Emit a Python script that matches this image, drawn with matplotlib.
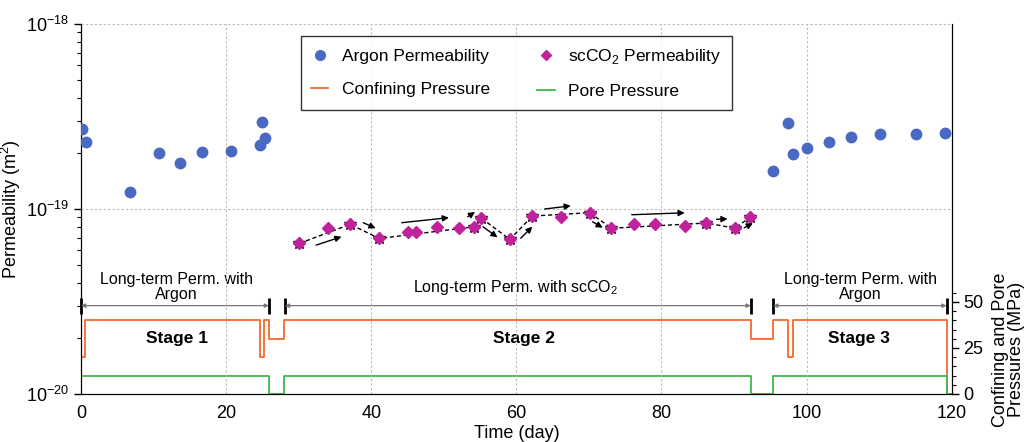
import numpy as np
import matplotlib
matplotlib.use('Agg')
import matplotlib.pyplot as plt
from matplotlib.lines import Line2D
from matplotlib.ticker import LogLocator, FixedLocator, NullFormatter

plt.rcParams['font.family'] = ['Liberation Sans', 'DejaVu Sans']
plt.rcParams['mathtext.fontset'] = 'custom'
plt.rcParams['mathtext.rm'] = 'Liberation Sans'

# Argon permeability (day, m^2)
argon_day = [0.1, 0.7, 6.8, 10.7, 13.7, 16.7, 20.7, 24.7, 24.9, 25.4,
             95.4, 97.5, 98.1, 100.1, 103.1, 106.1, 110.1, 115.1, 119.1]
argon_k = [2.70e-19, 2.30e-19, 1.24e-19, 2.02e-19, 1.77e-19, 2.04e-19, 2.07e-19,
           2.23e-19, 2.95e-19, 2.42e-19,
           1.61e-19, 2.93e-19, 1.99e-19, 2.14e-19, 2.29e-19, 2.45e-19, 2.53e-19,
           2.54e-19, 2.57e-19]

# scCO2 permeability
co2_day = [30.1, 34.1, 37.1, 41.1, 45.1, 46.1, 49.1, 52.1, 54.2, 55.1, 59.1,
           62.2, 66.2, 70.1, 73.1, 76.2, 79.1, 83.2, 86.2, 90.1, 92.2]
co2_k = [6.52e-20, 7.88e-20, 8.26e-20, 6.93e-20, 7.48e-20, 7.48e-20, 8.0e-20,
         7.87e-20, 8.02e-20, 8.97e-20, 6.85e-20, 9.16e-20, 9.05e-20, 9.55e-20,
         7.87e-20, 8.26e-20, 8.33e-20, 8.13e-20, 8.4e-20, 7.88e-20, 9.0e-20]
# points joined by the dashed trend line
trend_idx = [0, 2, 3, 8, 9, 10, 11, 13, 14, 18, 19, 20]

# trend arrows: (day0, k0, day1, k1)
arrows = [
    (32.4, 6.38e-20, 35.9, 7.08e-20),
    (38.9, 8.43e-20, 40.6, 7.87e-20),
    (44.2, 8.43e-20, 50.7, 8.98e-20),
    (53.3, 9.08e-20, 54.3, 9.64e-20),
    (55.4, 8.02e-20, 57.4, 7.03e-20),
    (60.6, 6.95e-20, 62.2, 8.02e-20),
    (63.9, 1.00e-19, 67.5, 1.04e-19),
    (70.5, 8.53e-20, 71.9, 7.92e-20),
    (75.9, 9.31e-20, 83.2, 9.54e-20),
    (87.6, 8.80e-20, 89.1, 8.83e-20),
    (91.4, 7.92e-20, 92.6, 8.38e-20),
]

# pressures (MPa), step changes
conf_t = [0, 0.0, 0.55, 24.7, 25.2, 25.9, 28.0, 92.3, 95.4, 97.5, 98.1, 119.3, 120]
conf_p = [0, 20, 40, 20, 40, 30, 40, 30, 40, 20, 40, 0, 0]
pore_t = [0, 0.0, 25.9, 28.0, 92.3, 95.4, 119.3, 120]
pore_p = [0, 10, 0, 10, 0, 10, 0, 0]

# stages
stage_bounds = [(0, 25.9), (28.1, 92.3), (95.4, 119.3)]
stage_names = ['Stage 1', 'Stage 2', 'Stage 3']
stage_x = [13.2, 61.1, 107.2]
stage_desc = ['Long-term Perm. with\nArgon', 'Long-term Perm. with scCO$_2$',
              'Long-term Perm. with\nArgon']
desc_x = [13.1, 59.9, 107.4]

blue = '#4a69c3'
magenta = '#c0229b'
orange = '#f26a2c'
green = '#3dba4c'

fig = plt.figure(figsize=(10.28, 4.42), dpi=100)
ax1 = fig.add_axes([0.0788, 0.1086, 0.847, 0.8371])
ax2 = ax1.twinx()

# pressure lines on the right axis
ax2.plot(conf_t, conf_p, drawstyle='steps-post', color=orange, lw=1.3)
ax2.plot(pore_t, pore_p, drawstyle='steps-post', color=green, lw=1.3)
ax2.set_ylim(0, 201)
ax2.yaxis.set_major_locator(FixedLocator([0, 25, 50]))
ax2.yaxis.set_minor_locator(FixedLocator([5, 10, 15, 20, 30, 35, 40, 45, 55]))
ax2.tick_params(axis='y', which='major', labelsize=13, length=5, width=1)
ax2.tick_params(axis='y', which='minor', length=3, width=0.8)
ax2.set_ylabel('Confining and Pore\nPressures (MPa)', fontsize=13, labelpad=6,
               y=0.12, linespacing=0.95)
ax2.spines['top'].set_visible(False)

# stage range markers
for (a, b) in stage_bounds:
    ax2.annotate('', xy=(a, 48), xytext=(b, 48),
                 arrowprops=dict(arrowstyle='<|-|>', color='#777777', lw=0.9,
                                 mutation_scale=6, shrinkA=0, shrinkB=0))
    ax2.plot([a, b], [48, 48], ls='none', marker='|', color='black',
             markersize=11, markeredgewidth=2, clip_on=False)
for x, name in zip(stage_x, stage_names):
    ax2.text(x, 30, name, ha='center', va='center', fontsize=12.5, fontweight='bold')
for x, desc in zip(desc_x, stage_desc):
    ax2.text(x, 58, desc, ha='center', va='center', fontsize=11.5, linespacing=1.0)

# permeability on the left axis
ax1.set_zorder(ax2.get_zorder() + 1)
ax1.patch.set_visible(False)
tx = [co2_day[i] for i in trend_idx]
ty = [co2_k[i] for i in trend_idx]
ax1.plot(tx, ty, ls=(0, (3, 2)), color='black', lw=1.0, marker='*',
         markersize=9, zorder=3)
ax1.plot(argon_day, argon_k, ls='none', marker='o', color=blue, markersize=7.5,
         zorder=4)
ax1.plot(co2_day, co2_k, ls='none', marker='D', color=magenta, markersize=6.5,
         zorder=4)
for d0, k0, d1, k1 in arrows:
    ax1.annotate('', xy=(d1, k1), xytext=(d0, k0),
                 arrowprops=dict(arrowstyle='-|>', color='black', lw=1.0,
                                 mutation_scale=9, shrinkA=0, shrinkB=0),
                 zorder=5)

ax1.set_yscale('log')
ax1.set_ylim(1e-20, 1e-18)
ax1.set_xlim(0, 120)
ax1.set_xticks([0, 20, 40, 60, 80, 100, 120])
ax1.yaxis.set_major_locator(LogLocator(base=10, numticks=5))
ax1.yaxis.set_minor_locator(LogLocator(base=10, subs=np.arange(2, 10), numticks=20))
ax1.yaxis.set_minor_formatter(NullFormatter())
ax1.tick_params(axis='both', which='major', labelsize=13, length=5, width=1)
ax1.tick_params(axis='y', which='minor', length=3, width=0.8)
ax1.tick_params(axis='x', which='major', length=0, pad=8)
ax1.set_xlabel('Time (day)', fontsize=13, labelpad=2)
ax1.set_ylabel('Permeability (m$^2$)', fontsize=13, labelpad=2)
ax1.grid(True, which='major', ls=(0, (2, 2)), color='#bbbbbb', lw=0.8)
ax1.spines['top'].set_visible(False)
ax2.grid(False)

handles = [
    Line2D([], [], ls='none', marker='o', color=blue, markersize=7),
    Line2D([], [], color=orange, lw=1.3),
    Line2D([], [], ls='none', marker='D', color=magenta, markersize=5.5),
    Line2D([], [], color=green, lw=1.3),
]
labels = ['Argon Permeability', 'Confining Pressure',
          'scCO$_2$ Permeability', 'Pore Pressure']
leg = ax1.legend(handles, labels, ncol=2, loc='upper center',
                 bbox_to_anchor=(0.5, 0.99), fontsize=12.5, frameon=True,
                 fancybox=False, edgecolor='black', handlelength=1.0,
                 columnspacing=2.7, handletextpad=0.8, labelspacing=1.05,
                 borderpad=0.6)
leg.get_frame().set_linewidth(1.0)

fig.savefig('out.png', dpi=100)
